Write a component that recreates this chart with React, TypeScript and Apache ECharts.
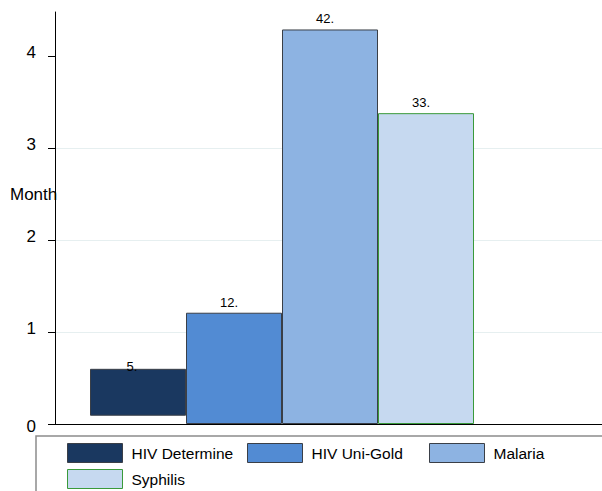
import React, { useEffect, useRef } from "react";
import * as echarts from "echarts";

const categories = ["HIV Determine", "HIV Uni-Gold", "Malaria", "Syphilis"];
const barTops = [0.6, 1.21, 4.29, 3.38];
const barBases = [0.09, 0, 0, 0];
const labelValues = [5, 12, 42, 33];
const yTicks = [0, 1, 2, 3, 4];
const yMax = 4.48;

const fills = ["#1a3860", "#528bd3", "#8db3e2", "#c6d9f0"];
const borders = ["#3a3f47", "#3a3f47", "#3a3f47", "#3a9a3a"];
const FONT = "'Liberation Sans', Arial, Helvetica, sans-serif";

export default function App() {
  const ref = useRef<HTMLDivElement>(null);
  useEffect(() => {
    if (!ref.current) return;
    const chart = echarts.init(ref.current, null, { renderer: "svg" });
    const legendPos = [
      { left: 67, top: 443 },
      { left: 247, top: 443 },
      { left: 429, top: 443 },
      { left: 67, top: 469 },
    ];
    const series: any[] = [
      {
        name: "_base",
        type: "bar",
        xAxisIndex: 1,
        yAxisIndex: 1,
        stack: "s",
        barWidth: "100%",
        silent: true,
        data: barBases,
        itemStyle: { color: "transparent", borderWidth: 0 },
      },
    ];
    categories.forEach((c, i) => {
      series.push({
        name: c,
        type: "bar",
        xAxisIndex: 1,
        yAxisIndex: 1,
        stack: "s",
        barWidth: "100%",
        data: categories.map((_, j) => (j === i ? +(barTops[i] - barBases[i]).toFixed(4) : "-")),
        itemStyle: { color: fills[i], borderColor: borders[i], borderWidth: 1 },
        label: {
          show: true,
          position: "top",
          distance: 4,
          offset: i === 0 ? [-6, 8] : [-5, 0],
          formatter: labelValues[i] + ".",
          fontSize: 13,
          color: "#000",
          fontFamily: FONT,
        },
      });
    });
    chart.setOption({
      animation: false,
      grid: [
        { left: 55, right: 0, top: 12, bottom: 67 },
        { left: 90, width: 384, top: 12, bottom: 67 },
      ],
      xAxis: [
        {
          type: "category",
          gridIndex: 0,
          data: [""],
          axisLine: { show: true, lineStyle: { color: "#000", width: 1 } },
          axisTick: { show: false },
          axisLabel: { show: false },
          splitLine: { show: false },
        },
        {
          type: "category",
          gridIndex: 1,
          data: categories,
          show: false,
        },
      ],
      yAxis: [
        {
          type: "value",
          gridIndex: 0,
          min: 0,
          max: yMax,
          interval: 1,
          axisLine: { show: true, lineStyle: { color: "#000", width: 1 } },
          axisTick: { show: true, length: 7, customValues: yTicks, lineStyle: { color: "#000" } },
          axisLabel: {
            customValues: yTicks,
            margin: 19,
            fontSize: 17,
            color: "#000",
            fontFamily: FONT,
            formatter: (v: number) => (v === 0 ? "{z|0}" : "{n|" + v + "}"),
            rich: {
              n: { fontSize: 17, fontFamily: FONT, color: "#000", padding: [0, 0, 8, 0] },
              z: { fontSize: 17, fontFamily: FONT, color: "#000", padding: [4, 0, 0, 0] },
            },
          },
          splitLine: {
            show: true,
            showMinLine: false,
            showMaxLine: false,
            lineStyle: { color: "#e6eff0", width: 1 },
          },
        },
        {
          type: "value",
          gridIndex: 1,
          min: 0,
          max: yMax,
          show: false,
          splitLine: { show: false },
        },
      ],
      legend: categories.map((c, i) => ({
        data: [{ name: c, itemStyle: { color: fills[i], borderColor: borders[i], borderWidth: 1 } }],
        left: legendPos[i].left,
        top: legendPos[i].top,
        padding: 0,
        itemWidth: 55,
        itemHeight: 19,
        icon: "rect",
        selectedMode: false,
        textStyle: { fontSize: 15.5, color: "#000", fontFamily: FONT, padding: [0, 0, 0, 4] },
      })),
      graphic: [
        {
          type: "rect",
          shape: { x: 36, y: 436, width: 620, height: 80 },
          style: { fill: "none", stroke: "#8c8c8c", lineWidth: 1.5 },
          silent: true,
        },
        {
          type: "text",
          left: 10,
          top: 186,
          style: { text: "Month", fontSize: 17, fill: "#000", fontFamily: FONT },
          silent: true,
        },
      ],
      series,
    });
    return () => chart.dispose();
  }, []);
  return (
    <div
      ref={ref}
      style={{ position: "fixed", left: 0, top: 0, width: 602, height: 491, background: "#fff" }}
    />
  );
}
